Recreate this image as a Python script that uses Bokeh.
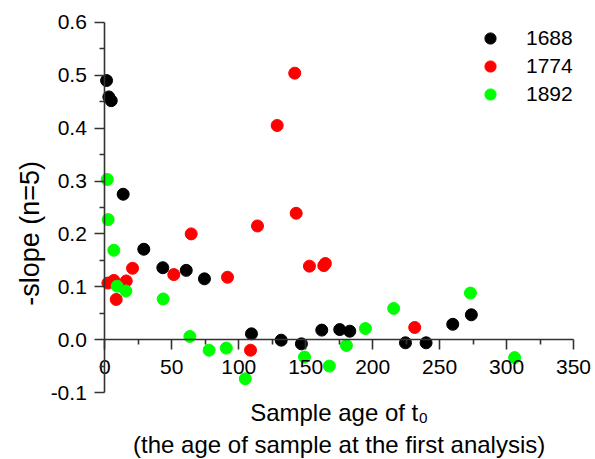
from math import pi
from bokeh.plotting import figure
from bokeh.models import (FixedTicker, PrintfTickFormatter, Label, Legend,
                          LegendItem, Range1d, LinearAxis)
from bokeh.embed import file_html
from bokeh.resources import INLINE

# ---- data ----
x1688 = [1.3, 3.0, 4.8, 13.7, 29.1, 43.3, 60.8, 74.4, 109.5, 131.7, 146.8,
         162.0, 175.4, 182.9, 224.5, 239.9, 259.8, 273.7]
y1688 = [0.490, 0.459, 0.452, 0.275, 0.171, 0.136, 0.131, 0.115, 0.011,
         -0.001, -0.008, 0.018, 0.019, 0.016, -0.006, -0.006, 0.029, 0.047]

x1774 = [2.3, 6.7, 8.5, 16.0, 20.7, 51.5, 64.5, 91.6, 108.8, 114.0, 128.7,
         141.8, 142.9, 152.8, 163.5, 164.7, 231.4]
y1774 = [0.107, 0.112, 0.076, 0.111, 0.135, 0.123, 0.200, 0.118, -0.020,
         0.215, 0.405, 0.504, 0.239, 0.139, 0.140, 0.144, 0.023]

x1892 = [1.8, 2.5, 6.7, 9.2, 15.7, 43.6, 63.5, 77.9, 90.7, 104.9, 149.1,
         167.7, 180.4, 194.6, 215.7, 273.0, 306.0]
y1892 = [0.303, 0.227, 0.169, 0.101, 0.092, 0.077, 0.006, -0.020, -0.016,
         -0.074, -0.033, -0.050, -0.011, 0.021, 0.059, 0.088, -0.034]

series_names = ["1688", "1774", "1892"]
series_colors = ["#000000", "#ff0000", "#00ff00"]

x_ticks = [0, 50, 100, 150, 200, 250, 300, 350]
x_minor = [25, 75, 125, 175, 225, 275, 325]
y_ticks = [-0.1, 0.0, 0.1, 0.2, 0.3, 0.4, 0.5, 0.6]
y_minor = [-0.05, 0.05, 0.15, 0.25, 0.35, 0.45, 0.55]

x_title = "Sample age of t\u2080"
x_title2 = "(the age of sample at the first analysis)"
y_title = "-slope (n=5)"

FONT = "Liberation Sans"
W, H = 595, 459
AXIS_COLOR = "#333333"

p = figure(width=W, height=H, output_backend="svg", toolbar_location=None,
           x_range=Range1d(-77.9, 366.4), y_range=Range1d(-0.2267, 0.6414),
           x_axis_location=None, y_axis_location=None,
           min_border_left=0, min_border_right=0,
           min_border_top=0, min_border_bottom=0)
p.outline_line_color = None
p.background_fill_color = "white"
p.border_fill_color = "white"
p.grid.visible = False


def style_axis(ax):
    ax.fixed_location = 0
    ax.axis_line_color = AXIS_COLOR
    ax.axis_line_width = 1.6
    ax.major_tick_line_color = AXIS_COLOR
    ax.minor_tick_line_color = AXIS_COLOR
    ax.major_tick_line_width = 1.6
    ax.minor_tick_line_width = 1.6
    ax.major_tick_in = 0
    ax.major_tick_out = 10
    ax.minor_tick_in = 0
    ax.minor_tick_out = 5
    ax.major_label_text_font = FONT
    ax.major_label_text_font_size = "21px"
    ax.major_label_text_color = "black"


xa = LinearAxis(bounds=(0, 350),
                ticker=FixedTicker(ticks=x_ticks, minor_ticks=x_minor))
style_axis(xa)
xa.major_label_standoff = 10
p.add_layout(xa, "below")

ya = LinearAxis(bounds=(-0.1, 0.6),
                ticker=FixedTicker(ticks=y_ticks, minor_ticks=y_minor),
                formatter=PrintfTickFormatter(format="%.1f"))
style_axis(ya)
ya.major_label_standoff = 8
ya.major_label_orientation = "horizontal"
p.add_layout(ya, "left")

renderers = []
for xs, ys, c in zip([x1688, x1774, x1892], [y1688, y1774, y1892], series_colors):
    r = p.scatter(xs, ys, size=12, marker="circle", fill_color=c, line_color=c)
    renderers.append(r)

legend = Legend(items=[LegendItem(label=n, renderers=[r])
                       for n, r in zip(series_names, renderers)],
                location=(476, 351), padding=0, margin=0, spacing=0,
                glyph_width=28, glyph_height=28, label_height=28,
                label_standoff=22, border_line_color=None,
                background_fill_alpha=0,
                label_text_font=FONT, label_text_font_size="21px",
                label_text_color="black")
p.add_layout(legend)

p.add_layout(Label(x=175, y=-0.1375, text=x_title, text_align="center",
                   text_baseline="alphabetic", text_font=FONT,
                   text_font_size="24px", text_color="black"))
p.add_layout(Label(x=175, y=-0.1975, text=x_title2, text_align="center",
                   text_baseline="alphabetic", text_font=FONT,
                   text_font_size="24px", text_color="black"))
p.add_layout(Label(x=-55.5, y=0.201, text=y_title, angle=pi / 2,
                   text_align="center", text_baseline="alphabetic",
                   text_font=FONT, text_font_size="27px", text_color="black"))

open("out.html", "w").write(file_html(p, INLINE))
